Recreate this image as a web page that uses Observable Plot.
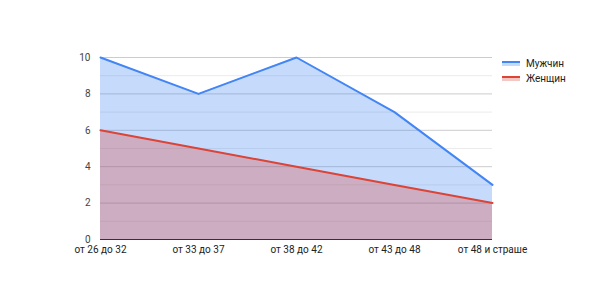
<!DOCTYPE html>
<html><head><meta charset="utf-8">
<script src="https://cdn.jsdelivr.net/npm/d3@7"></script>
<script src="https://cdn.jsdelivr.net/npm/@observablehq/plot@0.6"></script>
<style>
body{margin:0;background:#fff;font-family:Roboto,Arial,sans-serif}
#wrap{position:relative;width:591px;height:296px}
.leg{position:absolute;left:502px;height:10px;display:flex;align-items:center;font-size:10px;color:#222}
.sw{width:18px;height:3px;margin-right:6px}
</style></head>
<body><div id="wrap"></div>
<script>
const categories = ["от 26 до 32","от 33 до 37","от 38 до 42","от 43 до 48","от 48 и страше"];
const men = [10, 8, 10, 7, 3];
const women = [6, 5, 4, 3, 2];
const seriesNames = ["Мужчин", "Женщин"];
const seriesColors = ["#4285f4", "#db4437"];
const yTicks = [0, 2, 4, 6, 8, 10];
const majorGrid = [2, 4, 6, 8, 10];
const minorGrid = [1, 3, 5, 7, 9];

const menData = categories.map((c, i) => ({cat: c, v: men[i]}));
const womenData = categories.map((c, i) => ({cat: c, v: women[i]}));

const chart = Plot.plot({
  width: 591, height: 296,
  marginLeft: 100, marginRight: 99, marginTop: 57, marginBottom: 57,
  style: {fontFamily: "Roboto, Arial, sans-serif", fontSize: "10px", background: "#fff"},
  x: {type: "point", domain: categories, padding: 0},
  y: {domain: [0, 10]},
  marks: [
    Plot.ruleY(minorGrid, {stroke: "#ebebeb"}),
    Plot.ruleY(majorGrid, {stroke: "#cccccc"}),
    Plot.area(menData, {x1: "cat", y1: 0, y2: "v", fill: seriesColors[0], fillOpacity: 0.3}),
    Plot.area(womenData, {x1: "cat", y1: 0, y2: "v", fill: seriesColors[1], fillOpacity: 0.3}),
    Plot.line(menData, {x: "cat", y: "v", stroke: seriesColors[0], strokeWidth: 2}),
    Plot.line(womenData, {x: "cat", y: "v", stroke: seriesColors[1], strokeWidth: 2}),
    Plot.ruleY([0], {stroke: "#333"}),
    Plot.axisY(yTicks, {tickSize: 0, tickPadding: 10, fill: "#444", label: null, fontSize: 10}),
    Plot.axisX({tickSize: 0, tickPadding: 6, fill: "#222", label: null, fontSize: 10})
  ]
});
const wrap = document.getElementById("wrap");
wrap.appendChild(chart);
seriesNames.forEach((name, i) => {
  const d = document.createElement("div");
  d.className = "leg";
  d.style.top = (58 + i * 15) + "px";
  const sw = document.createElement("div");
  sw.className = "sw";
  sw.style.borderTop = "2px solid " + seriesColors[i];
  sw.style.background = d3.color(seriesColors[i]).copy({opacity: 0.3}).formatRgb();
  d.appendChild(sw);
  d.appendChild(document.createTextNode(name));
  wrap.appendChild(d);
});
</script>
</body></html>
